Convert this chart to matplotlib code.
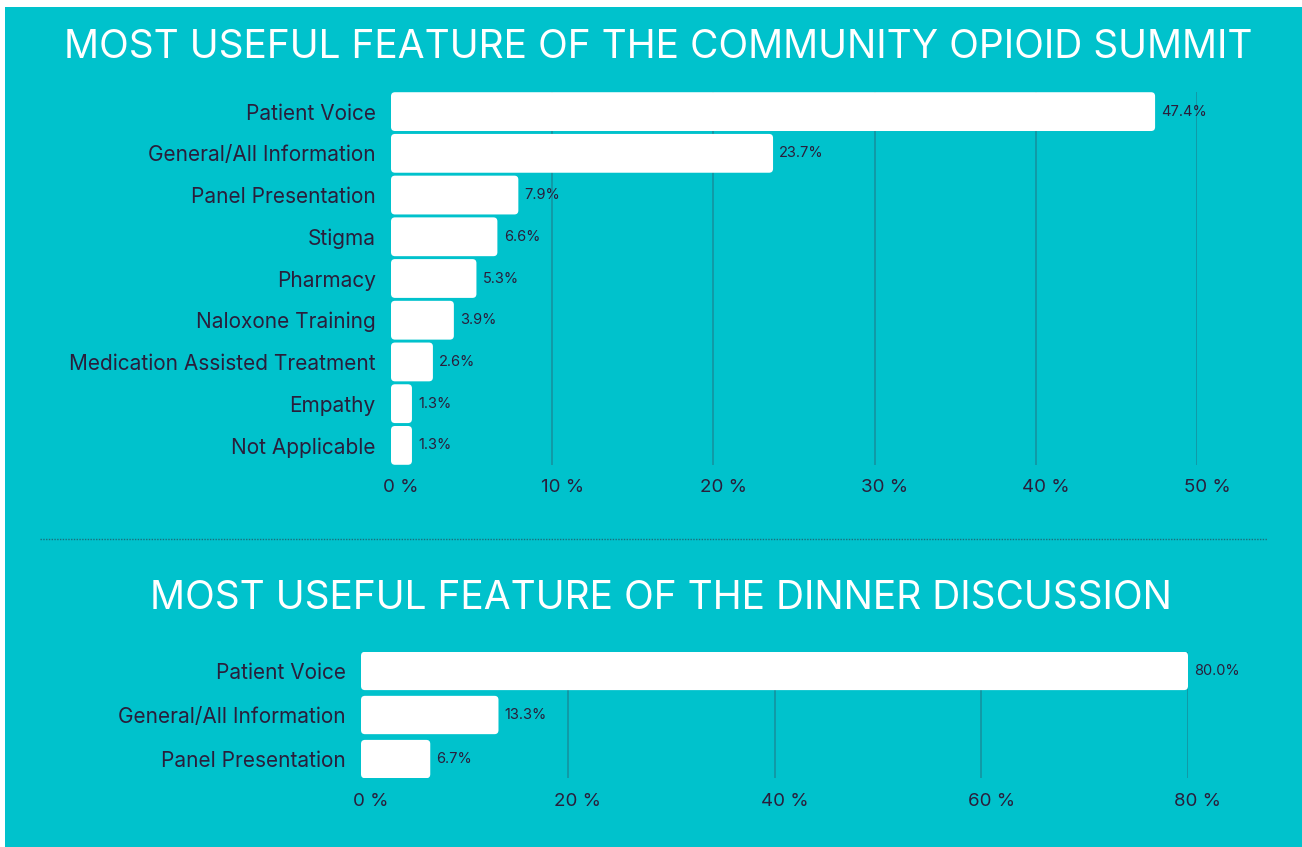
import matplotlib
matplotlib.use("Agg")
import matplotlib.pyplot as plt
from matplotlib.lines import Line2D
from matplotlib.patches import Rectangle, FancyBboxPatch
from matplotlib.transforms import ScaledTranslation

plt.rcParams["font.family"] = ["Inter", "DejaVu Sans"]

TEAL = "#00c2cc"
GRID = "#158f9c"
INK = "#2a1e3b"

# Community opioid summit
summit_labels = ["Patient Voice", "General/All Information", "Panel Presentation",
                 "Stigma", "Pharmacy", "Naloxone Training",
                 "Medication Assisted Treatment", "Empathy", "Not Applicable"]
summit_values = [47.4, 23.7, 7.9, 6.6, 5.3, 3.9, 2.6, 1.3, 1.3]
summit_ticks = [0, 10, 20, 30, 40, 50]

# Dinner discussion
dinner_labels = ["Patient Voice", "General/All Information", "Panel Presentation"]
dinner_values = [80.0, 13.3, 6.7]
dinner_ticks = [0, 20, 40, 60, 80]

fig = plt.figure(figsize=(13.02, 8.47), dpi=100, facecolor="white")
fig.add_artist(Rectangle((5 / 1302, 0), 1, 1 - 7 / 847, transform=fig.transFigure,
                         facecolor=TEAL, edgecolor="none", zorder=-10))


def draw_panel(ax, labels, values, ticks, xmax, height, half, xpad):
    ax.set_facecolor("none")
    ypos = range(len(labels))
    ax.set_xlim(0, xmax)
    ax.set_ylim(len(labels) - 1 + half, -half)
    bars = ax.barh(ypos, values, height=height, color="white", zorder=3)
    # swap plain bars for slightly rounded ones
    bbox = ax.get_position()
    xpp = xmax / (bbox.width * 1302)
    ypp = (len(labels) - 1 + 2 * half) / (bbox.height * 847)
    for b in bars:
        ax.add_patch(FancyBboxPatch((b.get_x(), b.get_y()), b.get_width(), b.get_height(),
                                    boxstyle="round,pad=0,rounding_size=%f" % (4 * xpp),
                                    mutation_aspect=ypp / xpp,
                                    facecolor="white", edgecolor="none", zorder=3))
        b.remove()
    for y, v in zip(ypos, values):
        ax.annotate("%.1f%%" % v, (v, y), xytext=(4.5, 0), textcoords="offset points",
                    va="center", ha="left", fontsize=10.5, color=INK, zorder=4)
    ax.set_xticks(ticks)
    ax.set_xticklabels(["%d %%" % t for t in ticks])
    ax.set_yticks(list(ypos))
    ax.set_yticklabels(labels)
    for t in ticks[1:]:
        ax.axvline(t, color=GRID, lw=1.1, zorder=1)
    for s in ax.spines.values():
        s.set_visible(False)
    ax.tick_params(axis="both", length=0, colors=INK)
    ax.tick_params(axis="x", labelsize=13.5, pad=xpad)
    ax.tick_params(axis="y", labelsize=15, pad=11)
    # tick labels sit a little right of their gridline in the original
    shift = ScaledTranslation(10 / 100, 0, fig.dpi_scale_trans)
    for tick in ax.xaxis.get_major_ticks():
        tick.label1.set_transform(tick.label1.get_transform() + shift)


ax1 = fig.add_axes([391 / 1302, 1 - 465 / 847, (1197 - 391) / 1302, (465 - 92) / 847])
draw_panel(ax1, summit_labels, summit_values, summit_ticks, 50, 0.93, 0.47, 10)

ax2 = fig.add_axes([361 / 1302, 1 - 778 / 847, (1188 - 361) / 1302, (778 - 652) / 847])
draw_panel(ax2, dinner_labels, dinner_values, dinner_ticks, 80, 0.87, 0.43, 11)

fig.text(658 / 1302, 1 - 48 / 847, "MOST USEFUL FEATURE OF THE COMMUNITY OPIOID SUMMIT",
         ha="center", va="center", color="white", fontsize=28)
fig.text(661 / 1302, 1 - 598 / 847, "MOST USEFUL FEATURE OF THE DINNER DISCUSSION",
         ha="center", va="center", color="white", fontsize=28)

fig.add_artist(Line2D([40 / 1302, 1267 / 1302], [1 - 539 / 847, 1 - 539 / 847],
                      transform=fig.transFigure, color="#1a6f7c", lw=1,
                      linestyle=(0, (1, 1))))

fig.savefig("out.png", dpi=100, facecolor=fig.get_facecolor())
